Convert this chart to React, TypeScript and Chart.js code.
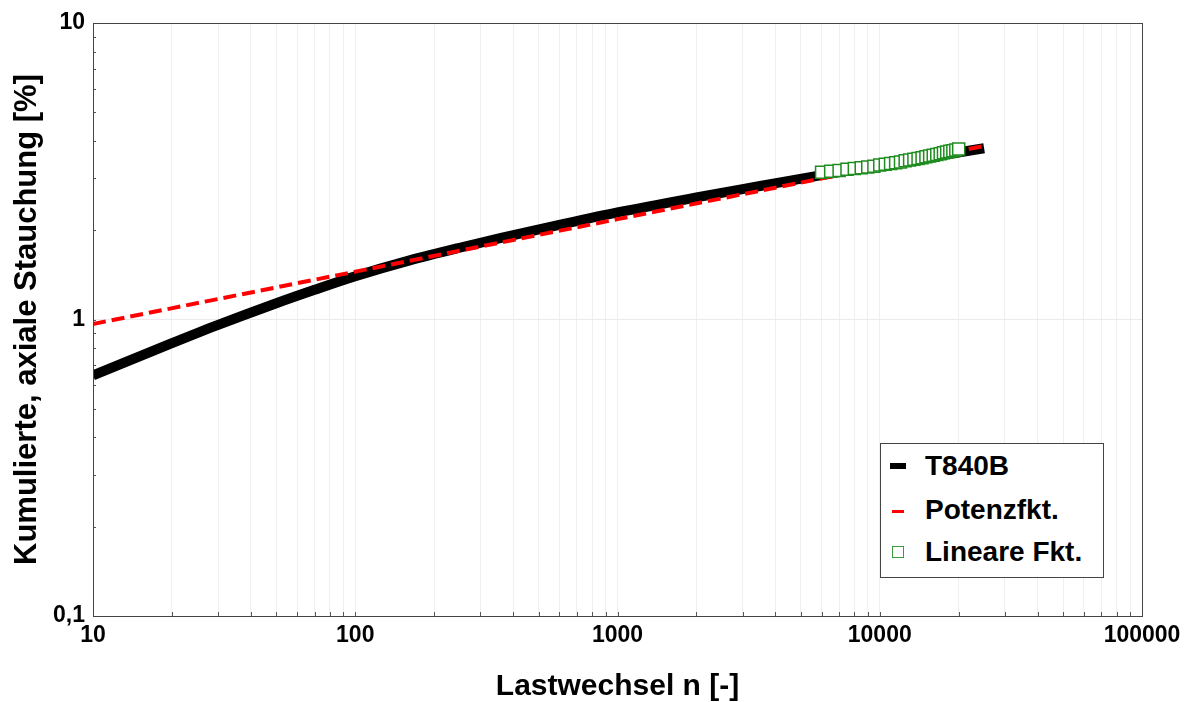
import React, { useEffect, useRef } from "react";
import { Chart, registerables } from "chart.js";

Chart.register(...registerables);

// ---- data ----
const blackN = [10, 20, 30, 50, 70, 100, 160, 250, 360, 600, 1000, 2000, 3500, 6000, 10000, 15000, 25000];
const blackY = [0.648, 0.832, 0.959, 1.135, 1.26, 1.4, 1.58, 1.746, 1.884, 2.084, 2.296, 2.58, 2.82, 3.07, 3.31, 3.51, 3.78];

const redN = [10, 100, 1000, 10000, 25000];
const redY = [0.966, 1.45, 2.18, 3.27, 3.85];

const greenN = [6000, 6500, 7000, 7500, 8000, 8500, 9000, 9500, 10000, 10500, 11000, 11500, 12000, 12500, 13000, 13500, 14000, 14500, 15000, 15500, 16000, 16500, 17000, 17500, 18000, 18500, 19000, 19500, 20000];
const greenY = [3.14, 3.16, 3.18, 3.21, 3.23, 3.25, 3.27, 3.29, 3.32, 3.34, 3.36, 3.38, 3.4, 3.43, 3.45, 3.47, 3.49, 3.51, 3.54, 3.56, 3.58, 3.6, 3.62, 3.65, 3.67, 3.69, 3.71, 3.73, 3.76];

const xMajor = [10, 100, 1000, 10000, 100000];
const xMajorLabels = ["10", "100", "1000", "10000", "100000"];
const yMajor = [0.1, 1, 10];
const yMajorLabels = ["0,1", "1", "10"];

const seriesNames = ["T840B", "Potenzfkt.", "Lineare Fkt."];
const xTitle = "Lastwechsel n [-]";
const yTitle = "Kumulierte, axiale Stauchung [%]";

function logTicks(majors: number[]) {
  const out: number[] = [];
  for (let i = 0; i < majors.length; i++) {
    out.push(majors[i]);
    if (i < majors.length - 1) {
      for (let k = 2; k <= 9; k++) out.push(Number((majors[i] * k).toPrecision(6)));
    }
  }
  return out;
}

function majorIndex(v: number, majors: number[]) {
  for (let i = 0; i < majors.length; i++) {
    if (Math.abs(v - majors[i]) / majors[i] < 1e-6) return i;
  }
  return -1;
}

function labelFor(v: number, majors: number[], labels: string[]) {
  const i = majorIndex(v, majors);
  return i >= 0 ? labels[i] : "";
}

const FONT = "'Liberation Sans', Arial, sans-serif";

const framePlugin = {
  id: "frame",
  afterDraw(chart: any) {
    const { ctx, chartArea } = chart;
    const { left, right, top, bottom } = chartArea;
    ctx.save();
    ctx.strokeStyle = "#555";
    ctx.lineWidth = 1;
    ctx.beginPath();
    for (const t of chart.scales.x.ticks) {
      const px = Math.round(chart.scales.x.getPixelForValue(t.value)) + 0.5;
      ctx.moveTo(px, bottom);
      ctx.lineTo(px, bottom - 4);
    }
    for (const t of chart.scales.y.ticks) {
      const py = Math.round(chart.scales.y.getPixelForValue(t.value)) + 0.5;
      ctx.moveTo(left, py);
      ctx.lineTo(left + 3, py);
    }
    ctx.stroke();
    ctx.strokeStyle = "#444";
    ctx.strokeRect(Math.round(left) + 0.5, Math.round(top) + 0.5, Math.round(right - left), Math.round(bottom - top));
    ctx.restore();
  },
};

export default function App() {
  const ref = useRef<HTMLCanvasElement | null>(null);

  useEffect(() => {
    if (!ref.current) return;
    const chart = new Chart(ref.current, {
      type: "scatter",
      data: {
        datasets: [
          {
            label: seriesNames[0],
            data: blackN.map((n, i) => ({ x: n, y: blackY[i] })),
            showLine: true,
            borderColor: "#000",
            borderWidth: 10,
            pointRadius: 0,
            cubicInterpolationMode: "monotone",
            order: 2,
          },
          {
            label: seriesNames[1],
            data: redN.map((n, i) => ({ x: n, y: redY[i] })),
            showLine: true,
            borderColor: "#ff0000",
            borderWidth: 4,
            borderDash: [13, 6],
            pointRadius: 0,
            order: 1,
          },
          {
            label: seriesNames[2],
            data: greenN.map((n, i) => ({ x: n, y: greenY[i] })),
            showLine: false,
            pointStyle: "rect",
            pointRadius: 8.5,
            pointBorderColor: "#1e8c1e",
            pointBackgroundColor: "#ffffff",
            pointBorderWidth: 1.5,
            order: 0,
          },
        ],
      },
      options: {
        animation: false,
        responsive: false,
        maintainAspectRatio: false,
        layout: { padding: { top: 23, right: 54, left: 0, bottom: 0 } },
        plugins: { legend: { display: false }, tooltip: { enabled: false } },
        scales: {
          x: {
            type: "logarithmic",
            min: 10,
            max: 100000,
            afterBuildTicks: (s: any) => {
              s.ticks = logTicks(xMajor).map((v) => ({ value: v }));
            },
            afterFit: (s: any) => {
              s.height = 86;
            },
            grid: { color: "#efefef", lineWidth: 1, drawTicks: false },
            border: { display: true, color: "#444" },
            ticks: {
              autoSkip: false,
              maxRotation: 0,
              padding: 6,
              color: "#000",
              font: { family: FONT, size: 23, weight: "bold" },
              callback: (v: any) => labelFor(Number(v), xMajor, xMajorLabels),
            },
            title: {
              display: true,
              text: xTitle,
              color: "#000",
              font: { family: FONT, size: 30, weight: "bold", lineHeight: 1 },
              padding: { top: 0, bottom: 0 },
            },
          },
          y: {
            type: "logarithmic",
            min: 0.1,
            max: 10,
            afterBuildTicks: (s: any) => {
              s.ticks = logTicks(yMajor).map((v) => ({ value: v }));
            },
            afterFit: (s: any) => {
              s.width = 93;
            },
            grid: {
              color: (c: any) => (c.tick && majorIndex(c.tick.value, yMajor) >= 0 ? "#ebebeb" : "rgba(0,0,0,0)"),
              lineWidth: 1,
              drawTicks: false,
            },
            border: { display: true, color: "#444" },
            ticks: {
              autoSkip: false,
              padding: 8,
              color: "#000",
              font: { family: FONT, size: 23, weight: "bold" },
              callback: (v: any) => labelFor(Number(v), yMajor, yMajorLabels),
            },
            title: {
              display: true,
              text: yTitle,
              color: "#000",
              font: { family: FONT, size: 31, weight: "bold", lineHeight: 1 },
              padding: { top: 12, bottom: 0 },
            },
          },
        },
      },
      plugins: [framePlugin],
    } as any);
    return () => chart.destroy();
  }, []);

  const legendText: React.CSSProperties = {
    position: "absolute",
    left: 44,
    fontFamily: FONT,
    fontWeight: "bold",
    fontSize: 28,
    lineHeight: "30px",
    color: "#000",
    whiteSpace: "nowrap",
  };

  return (
    <div style={{ position: "absolute", left: 0, top: 0, width: 1196, height: 702, background: "#fff" }}>
      <canvas ref={ref} width={1196} height={702} style={{ display: "block", width: 1196, height: 702 }} />
      <div
        style={{
          position: "absolute",
          left: 880,
          top: 443,
          width: 222,
          height: 133,
          border: "1px solid #444",
          background: "#fff",
        }}
      >
        <div style={{ position: "absolute", left: 9, top: 19, width: 16, height: 6, background: "#000" }} />
        <div style={{ ...legendText, top: 7 }}>{seriesNames[0]}</div>
        <div style={{ position: "absolute", left: 11, top: 66, width: 12, height: 3, background: "#ff0000" }} />
        <div style={{ ...legendText, top: 51 }}>{seriesNames[1]}</div>
        <div
          style={{
            position: "absolute",
            left: 11,
            top: 102,
            width: 10,
            height: 10,
            border: "1.5px solid #3c9c3c",
            background: "#fff",
          }}
        />
        <div style={{ ...legendText, top: 93 }}>{seriesNames[2]}</div>
      </div>
    </div>
  );
}
